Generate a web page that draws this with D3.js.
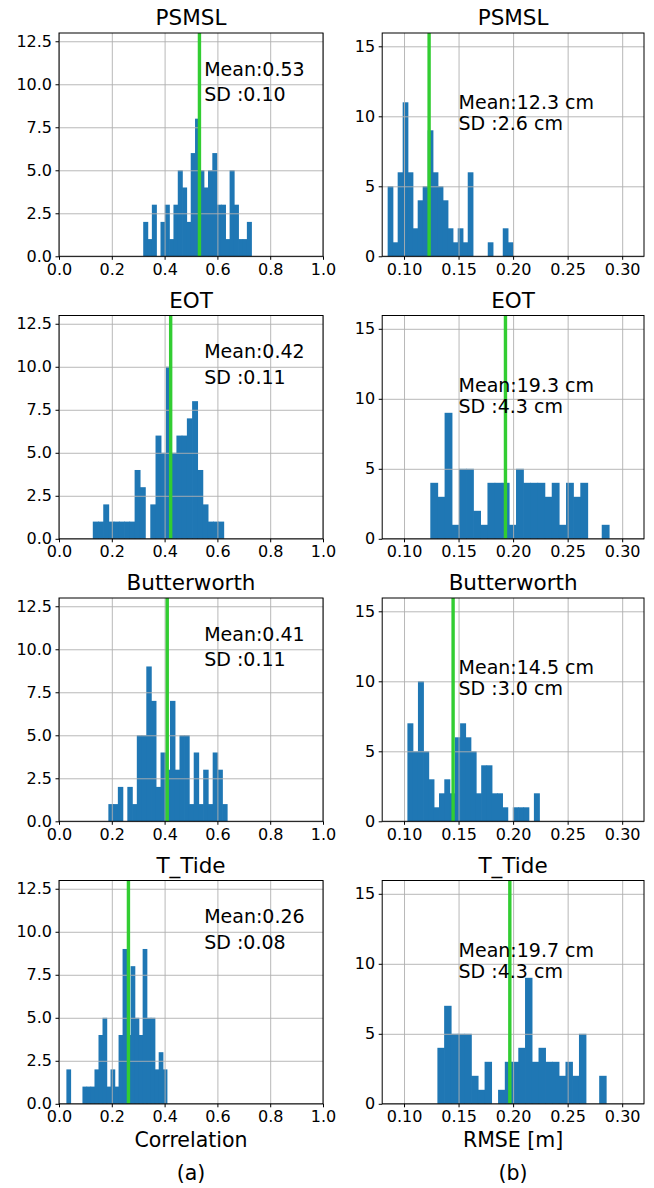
<!DOCTYPE html>
<html>
<head>
<meta charset="utf-8">
<script src="https://cdn.jsdelivr.net/npm/d3@7"></script>
<style>
body { margin: 0; background: #fff; }
svg { display: block; }
text { font-family: 'DejaVu Sans', sans-serif; fill: #000; }
</style>
</head>
<body>
<svg></svg>
<script>
const titles = ['PSMSL', 'EOT', 'Butterworth', 'T_Tide'];

// correlation histograms, counts per bin (25 bins each)
const corrPSMSL  = [2,1,3,0,2,3,1,3,5,4,2,6,8,5,4,5,6,3,3,1,5,3,1,1,2];
const corrEOT    = [1,1,2,1,1,1,1,1,4,3,0,2,6,5,10,5,6,6,7,8,4,2,1,1,1];
const corrButter = [1,1,2,0,2,1,5,5,9,7,2,4,3,7,3,5,5,1,4,1,3,1,4,3,1];
const corrTTide  = [2,0,0,0,1,1,1,2,4,5,1,2,1,4,9,4,8,5,4,9,5,5,2,3,2];
// first and last bin edge of each correlation histogram
const corrRanges = [[0.319, 0.728], [0.128, 0.623], [0.187, 0.636], [0.028, 0.408]];
const corrMeans = [0.532, 0.423, 0.41, 0.263];
const corrSDs = [0.10, 0.11, 0.11, 0.08];

// RMSE histograms [m], counts per bin
const rmsePSMSL  = [5,1,6,11,6,2,4,5,9,6,5,4,2,1,2,1,6,0,0,0,1,0,0,2,1];
const rmseEOT    = [4,3,9,1,5,5,2,1,4,4,4,1,5,4,4,4,3,4,1,4,3,4,0,0,1];
const rmseButter = [7,5,10,5,3,1,2,3,2,6,7,6,5,2,4,4,2,2,1,0,1,1,1,0,2];
const rmseTTide  = [4,7,5,5,5,2,1,3,0,1,3,3,4,9,3,4,3,3,2,3,2,5,0,0,2];
const rmseRanges = [[0.085, 0.1997], [0.1241, 0.2878], [0.1031, 0.2239], [0.1306, 0.2851]];
const rmseMeans = [0.123, 0.193, 0.145, 0.197];
const rmseSDs = [0.026, 0.043, 0.030, 0.043];

const corrTicksX = [0, 0.2, 0.4, 0.6, 0.8, 1.0];
const corrTicksY = [0, 2.5, 5, 7.5, 10, 12.5];
const rmseTicksX = [0.10, 0.15, 0.20, 0.25, 0.30];
const rmseTicksY = [0, 5, 10, 15];

const width = 654;
const height = 1188;

const cols = [
	{ x0: 59, x1: 323, domain: [0, 1], ymax: 12.98, tx: corrTicksX, ty: corrTicksY,
		fx: d3.format('.1f'), fy: d3.format('.1f'), textX: 0.55,
		data: [corrPSMSL, corrEOT, corrButter, corrTTide], ranges: corrRanges,
		means: corrMeans, sds: corrSDs,
		label: (m, s) => [`Mean:${m.toFixed(2)}`, `SD :${s.toFixed(2)}`] },
	{ x0: 382.2, x1: 644, domain: [0.08, 0.32], ymax: 15.95, tx: rmseTicksX, ty: rmseTicksY,
		fx: d3.format('.2f'), fy: d3.format('d'), textX: 0.15,
		data: [rmsePSMSL, rmseEOT, rmseButter, rmseTTide], ranges: rmseRanges,
		means: rmseMeans, sds: rmseSDs,
		label: (m, s) => [`Mean:${(m * 100).toFixed(1)} cm`, `SD :${(s * 100).toFixed(1)} cm`] }
];

const rowTop = [33, 315.5, 598, 880.5];
const rowH = 223.3;

const svg = d3.select('svg')
	.attr('width', width)
	.attr('height', height);

cols.forEach((c, ci) => {
	titles.forEach((title, ri) => {
		const top = rowTop[ri];
		const bottom = top + rowH;
		const counts = c.data[ri];
		const range = c.ranges[ri];
		const binW = (range[1] - range[0]) / counts.length;

		const x = d3.scaleLinear().domain(c.domain).range([c.x0, c.x1]);
		const y = d3.scaleLinear().domain([0, c.ymax]).range([bottom, top]);

		const g = svg.append('g');

		// bars (slight overlap so no seams show between neighbours)
		g.selectAll('rect.bar')
			.data(counts)
			.join('rect')
			.attr('class', 'bar')
			.attr('x', (d, i) => x(range[0] + i * binW))
			.attr('width', (d, i) => x(range[0] + (i + 1) * binW) - x(range[0] + i * binW) + 0.7)
			.attr('y', d => y(d))
			.attr('height', d => y(0) - y(d))
			.attr('fill', '#1f77b4');

		// grid (drawn over the bars, like matplotlib)
		const gridX = g.append('g')
			.attr('transform', `translate(0,${bottom})`)
			.call(d3.axisBottom(x).tickValues(c.tx).tickSize(-rowH).tickFormat(''));
		const gridY = g.append('g')
			.attr('transform', `translate(${c.x0},0)`)
			.call(d3.axisLeft(y).tickValues(c.ty).tickSize(-(c.x1 - c.x0)).tickFormat(''));
		[gridX, gridY].forEach(a => {
			a.select('.domain').remove();
			a.selectAll('line').attr('stroke', '#b0b0b0').attr('stroke-width', 0.9);
		});

		// mean line
		g.append('line')
			.attr('x1', x(c.means[ri])).attr('x2', x(c.means[ri]))
			.attr('y1', top).attr('y2', bottom)
			.attr('stroke', '#32cd32')
			.attr('stroke-width', 3.4);

		// frame
		g.append('rect')
			.attr('x', c.x0).attr('y', top)
			.attr('width', c.x1 - c.x0).attr('height', rowH)
			.attr('fill', 'none')
			.attr('stroke', '#000')
			.attr('stroke-width', 1);

		// tick axes
		const ax = g.append('g')
			.attr('transform', `translate(0,${bottom})`)
			.call(d3.axisBottom(x).tickValues(c.tx).tickSize(3.5).tickPadding(3.5).tickFormat(c.fx));
		const ay = g.append('g')
			.attr('transform', `translate(${c.x0},0)`)
			.call(d3.axisLeft(y).tickValues(c.ty).tickSize(3.5).tickPadding(3.5).tickFormat(c.fy));
		[ax, ay].forEach(a => {
			a.select('.domain').remove();
			a.selectAll('line').attr('stroke', '#000');
			a.selectAll('text')
				.attr('font-family', "'DejaVu Sans', sans-serif")
				.attr('font-size', 16)
				.attr('fill', '#000');
		});

		// title
		g.append('text')
			.attr('x', (c.x0 + c.x1) / 2)
			.attr('y', top - 8)
			.attr('text-anchor', 'middle')
			.attr('font-size', 21.5)
			.text(title);

		// annotation
		const lines = c.label(c.means[ri], c.sds[ri]);
		g.append('text')
			.attr('x', x(c.textX))
			.attr('y', y(10.5))
			.attr('font-size', 19)
			.text(lines[0]);
		g.append('text')
			.attr('x', x(c.textX))
			.attr('y', y(9))
			.attr('font-size', 19)
			.text(lines[1]);
	});

	// column labels
	svg.append('text')
		.attr('x', (c.x0 + c.x1) / 2)
		.attr('y', 1147)
		.attr('text-anchor', 'middle')
		.attr('font-size', 20.5)
		.text(ci === 0 ? 'Correlation' : 'RMSE [m]');

	svg.append('text')
		.attr('x', (c.x0 + c.x1) / 2)
		.attr('y', 1180)
		.attr('text-anchor', 'middle')
		.attr('font-size', 20.5)
		.text(ci === 0 ? '(a)' : '(b)');
});
</script>
</body>
</html>
